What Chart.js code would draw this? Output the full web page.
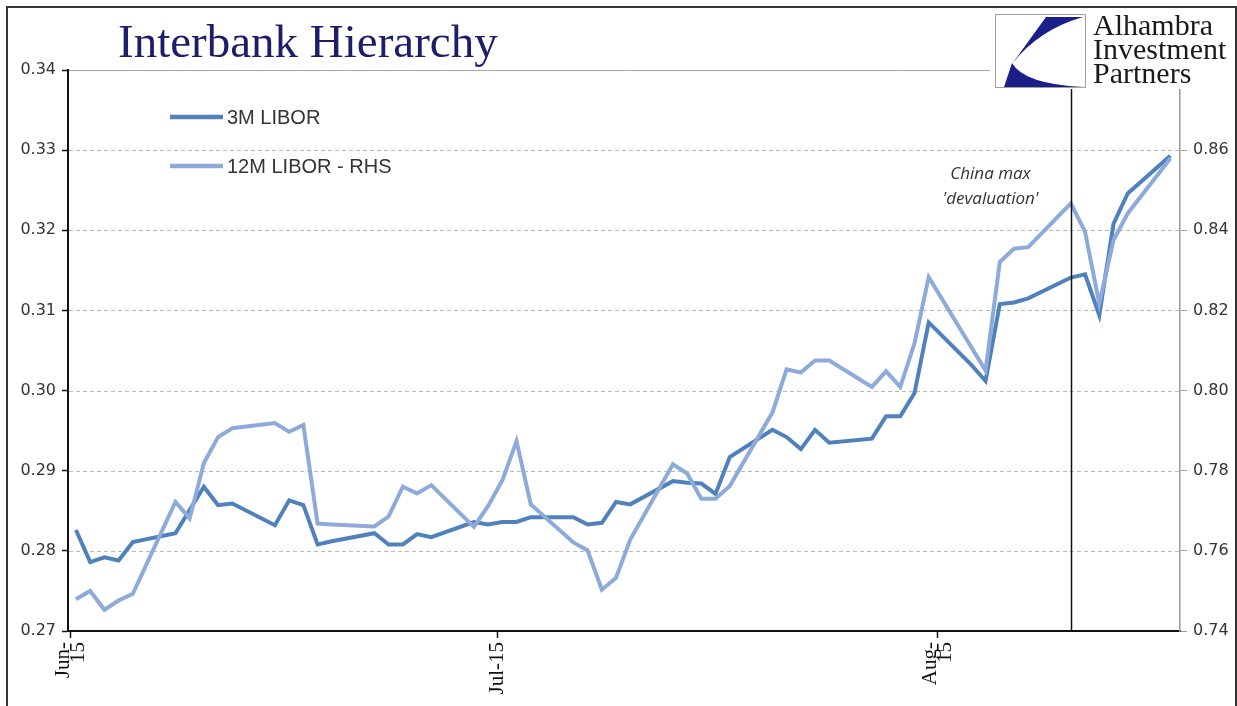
<!DOCTYPE html>
<html>
<head>
<meta charset="utf-8">
<script src="https://cdn.jsdelivr.net/npm/chart.js@4.4.1/dist/chart.umd.min.js"></script>
<style>
html,body{margin:0;padding:0;background:#fff;}
#wrap{width:1237px;height:706px;position:relative;}
</style>
</head>
<body>
<div id="wrap"><canvas id="c" width="1237" height="706"></canvas></div>
<script>
// ---- data ----
const dates = [
  '2015-06-01','2015-06-02','2015-06-03','2015-06-04','2015-06-05',
  '2015-06-08','2015-06-09','2015-06-10','2015-06-11','2015-06-12',
  '2015-06-15','2015-06-16','2015-06-17','2015-06-18','2015-06-19',
  '2015-06-22','2015-06-23','2015-06-24','2015-06-25','2015-06-26',
  '2015-06-29','2015-06-30','2015-07-01','2015-07-02','2015-07-03',
  '2015-07-06','2015-07-07','2015-07-08','2015-07-09','2015-07-10',
  '2015-07-13','2015-07-14','2015-07-15','2015-07-16','2015-07-17',
  '2015-07-20','2015-07-21','2015-07-22','2015-07-23','2015-07-24',
  '2015-07-27','2015-07-28','2015-07-29','2015-07-30','2015-07-31',
  '2015-08-03','2015-08-04','2015-08-05','2015-08-06','2015-08-07',
  '2015-08-10','2015-08-11','2015-08-12','2015-08-13','2015-08-14',
  '2015-08-17'
];
const libor3m = [
  0.2826,0.2786,0.2792,0.2788,0.2811,
  0.2822,0.2851,0.2880,0.2857,0.2859,
  0.2832,0.2863,0.2857,0.2808,0.2812,
  0.2822,0.2808,0.2808,0.2821,0.2817,
  0.2836,0.2833,0.2836,0.2836,0.2842,
  0.2842,0.2833,0.2835,0.2861,0.2858,
  0.2887,0.2885,0.2884,0.2871,0.2917,
  0.2951,0.2942,0.2927,0.2951,0.2935,
  0.2940,0.2968,0.2968,0.2997,0.3085,
  0.3032,0.3012,0.3108,0.3110,0.3115,
  0.3141,0.3145,0.3094,0.3208,0.3246,
  0.3293
];
const libor12m = [
  0.7479,0.7500,0.7453,0.7476,0.7493,
  0.7722,0.7681,0.7819,0.7884,0.7906,
  0.7919,0.7897,0.7914,0.7668,0.7666,
  0.7661,0.7686,0.7760,0.7743,0.7764,
  0.7660,0.7712,0.7776,0.7874,0.7716,
  0.7621,0.7601,0.7503,0.7533,0.7628,
  0.7816,0.7793,0.7730,0.7730,0.7762,
  0.7945,0.8053,0.8045,0.8075,0.8075,
  0.8009,0.8048,0.8009,0.8118,0.8283,
  0.8108,0.8050,0.8321,0.8354,0.8358,
  0.8467,0.8396,0.8217,0.8375,0.8442,
  0.8579
];
const seriesNames = ['3M LIBOR', '12M LIBOR - RHS'];
const xTickDates = ['2015-06-01','2015-07-01','2015-08-01'];
const xTickLabels = [['Jun-','15'], ['Jul-15'], ['Aug-','15']];
const leftTicks = [0.27,0.28,0.29,0.30,0.31,0.32,0.33,0.34];
const rightTicks = [0.74,0.76,0.78,0.80,0.82,0.84,0.86];
const titleText = 'Interbank Hierarchy';
const annotationDate = '2015-08-10';
const annotationText = ['China max', "'devaluation'"];
const logoText = ['Alhambra', 'Investment', 'Partners'];

// ---- helpers ----
const baseDay = Date.UTC(2015,5,1);
function dayNum(s){ const p = s.split('-').map(Number); return (Date.UTC(p[0],p[1]-1,p[2]) - baseDay)/86400000; }
const POINT_OFFSET = 0.35;   // Excel date axis: points sit slightly right of the day tick
const COL3 = '#4f81bd', COL12 = '#8eaadb';

const bgPlugin = {
  id:'bg',
  beforeDraw(c){ const ctx=c.ctx; ctx.save(); ctx.fillStyle='#fff'; ctx.fillRect(0,0,c.width,c.height); ctx.restore(); }
};

const gridPlugin = {
  id:'gridlines',
  beforeDatasetsDraw(c){
    const ctx=c.ctx, a=c.chartArea, y=c.scales.y;
    ctx.save();
    leftTicks.forEach(v=>{
      if (Math.abs(v - y.min) < 1e-9) return;
      const py = Math.round(y.getPixelForValue(v)) + 0.5;
      ctx.beginPath();
      ctx.lineWidth = 1;
      if (Math.abs(v - y.max) < 1e-9){ ctx.setLineDash([]); ctx.strokeStyle='#a6a6a6'; }
      else { ctx.setLineDash([4,3]); ctx.strokeStyle='#b9b9b9'; }
      ctx.moveTo(a.left+1, py); ctx.lineTo(a.right, py); ctx.stroke();
    });
    ctx.restore();
  }
};

const overlayPlugin = {
  id:'overlay',
  afterDatasetsDraw(c){
    const ctx=c.ctx, a=c.chartArea, x=c.scales.x;
    ctx.save();
    // event marker
    const px = Math.round(x.getPixelForValue(dayNum(annotationDate)+POINT_OFFSET)) + 0.5;
    ctx.strokeStyle='#111'; ctx.lineWidth=1.5;
    ctx.beginPath(); ctx.moveTo(px, a.top); ctx.lineTo(px, a.bottom); ctx.stroke();
    ctx.fillStyle='#333'; ctx.textAlign='center'; ctx.textBaseline='alphabetic';
    ctx.font='italic 17px "Open Sans"';
    ctx.fillText(annotationText[0], px-81, a.top+109);
    ctx.fillText(annotationText[1], px-81, a.top+134);
    // legend
    const cols=[COL3, COL12];
    ctx.font='20px "Liberation Sans"'; ctx.textAlign='left'; ctx.textBaseline='middle';
    seriesNames.forEach((n,i)=>{
      const ly = a.top + 47 + i*49;
      ctx.strokeStyle=cols[i]; ctx.lineWidth=4.5; ctx.lineCap='butt';
      ctx.beginPath(); ctx.moveTo(a.left+102, ly); ctx.lineTo(a.left+155, ly); ctx.stroke();
      ctx.fillStyle='#333'; ctx.fillText(n, a.left+159, ly+1);
    });
    ctx.restore();
  },
  afterDraw(c){
    const ctx=c.ctx, x=c.scales.x;
    ctx.save();
    // x tick labels (rotated, multi-line block centred on the tick)
    ctx.fillStyle='#111'; ctx.font='21px "Liberation Serif"';
    ctx.textAlign='right'; ctx.textBaseline='middle';
    xTickDates.forEach((d,i)=>{
      const px = x.getPixelForValue(dayNum(d));
      const lines = xTickLabels[i];
      ctx.save();
      ctx.translate(px, x.top + 11);
      ctx.rotate(-Math.PI/2);
      lines.forEach((t,j)=>ctx.fillText(t, 0, (j-(lines.length-1)/2)*15));
      ctx.restore();
    });
    // title
    ctx.fillStyle='#1d1d6b'; ctx.font='47px "Liberation Serif"'; ctx.textAlign='left'; ctx.textBaseline='alphabetic';
    ctx.fillText(titleText, 118, 57);
    // logo
    ctx.fillStyle='#fff'; ctx.fillRect(990, 9, 247, 80);
    ctx.strokeStyle='#a0a0a0'; ctx.lineWidth=1;
    ctx.strokeRect(995.5, 14.5, 90, 73);
    ctx.fillStyle='#1b1f8a';
    ctx.beginPath(); ctx.moveTo(1046,17); ctx.lineTo(1083,17); ctx.quadraticCurveTo(1038,30,1012,64); ctx.closePath(); ctx.fill();
    ctx.beginPath(); ctx.moveTo(1012,63); ctx.quadraticCurveTo(1024,84,1083,87); ctx.lineTo(1004,87); ctx.closePath(); ctx.fill();
    ctx.fillStyle='#1a1a1a'; ctx.font='30px "Liberation Serif"';
    logoText.forEach((t,i)=>ctx.fillText(t, 1093, 35+i*24));
    // frame
    ctx.strokeStyle='#333'; ctx.lineWidth=2;
    ctx.strokeRect(7, 7, 1229, 720);
    ctx.restore();
  }
};

const ds3 = dates.map((d,i)=>({x: dayNum(d)+POINT_OFFSET, y: libor3m[i]}));
const ds12 = dates.map((d,i)=>({x: dayNum(d)+POINT_OFFSET, y: libor12m[i]}));

new Chart(document.getElementById('c'), {
  type:'line',
  data:{
    datasets:[
      {label:seriesNames[0], data:ds3, yAxisID:'y', borderColor:COL3, backgroundColor:COL3, borderWidth:4, pointRadius:0, tension:0, order:1},
      {label:seriesNames[1], data:ds12, yAxisID:'y1', borderColor:COL12, backgroundColor:COL12, borderWidth:4, pointRadius:0, tension:0, order:0}
    ]
  },
  options:{
    responsive:false, animation:false, devicePixelRatio:1,
    layout:{padding:{top:70,left:0,right:0,bottom:0}},
    plugins:{legend:{display:false}, tooltip:{enabled:false}, title:{display:false}},
    scales:{
      x:{
        type:'linear', min:-0.21, max:78.03,
        afterBuildTicks(s){ s.ticks = xTickDates.map(d=>({value:dayNum(d)})); },
        afterFit(s){ s.height = 75; },
        ticks:{ display:false, autoSkip:false },
        grid:{drawOnChartArea:false, drawTicks:true, tickLength:7, tickColor:'#111', tickWidth:1.5},
        border:{color:'#111', width:2}
      },
      y:{
        type:'linear', position:'left', min:0.27, max:0.34,
        afterBuildTicks(s){ s.ticks = leftTicks.map(v=>({value:v})); },
        afterFit(s){ s.width = 68; },
        ticks:{ color:'#333', padding:6, font:{family:'"DejaVu Sans"', size:16}, callback:v=>v.toFixed(2) },
        grid:{drawOnChartArea:false, drawTicks:true, tickLength:6, tickColor:'#111', tickWidth:1.5},
        border:{color:'#111', width:2}
      },
      y1:{
        type:'linear', position:'right', min:0.74, max:0.88,
        afterBuildTicks(s){ s.ticks = rightTicks.map(v=>({value:v})); },
        afterFit(s){ s.width = 57; },
        ticks:{ color:'#333', padding:6, font:{family:'"DejaVu Sans"', size:16}, callback:v=>v.toFixed(2) },
        grid:{drawOnChartArea:false, drawTicks:true, tickLength:7, tickColor:'#999', tickWidth:1},
        border:{color:'#999', width:1.5}
      }
    }
  },
  plugins:[bgPlugin, gridPlugin, overlayPlugin]
});
</script>
</body>
</html>
